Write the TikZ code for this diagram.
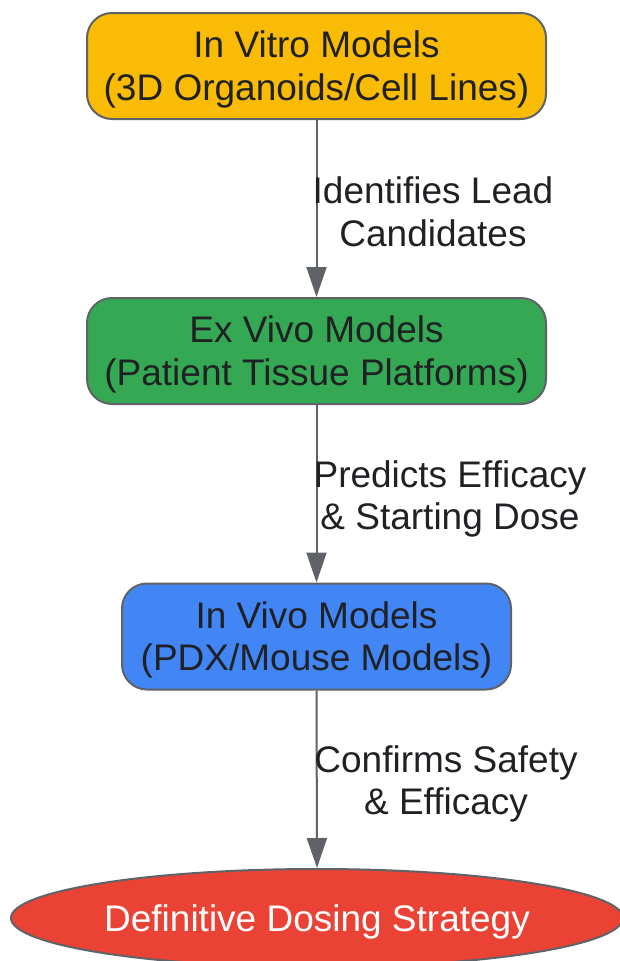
\documentclass[tikz,border=0pt]{standalone}
\usepackage{fontspec}
\setmainfont{Liberation Sans}
\usetikzlibrary{arrows.meta,shapes.geometric}
\definecolor{edgegray}{HTML}{5F6368}
\definecolor{txt}{HTML}{202124}
\definecolor{gyellow}{HTML}{FABB05}
\definecolor{ggreen}{HTML}{34A853}
\definecolor{gblue}{HTML}{4285F4}
\definecolor{gred}{HTML}{EA4335}
\newcommand{\boxtext}[1]{\raisebox{-4.5pt}[\height][\depth]{\begin{tabular}{@{}c@{}}#1\end{tabular}}}
\tikzset{
  box/.style={draw=edgegray, line width=2pt, rounded corners=25pt, minimum height=106pt, inner sep=0pt, align=center, text=txt, font=\fontsize{37}{42.5}\selectfont},
  oval/.style={ellipse, draw=edgegray, line width=2pt, minimum width=612pt, minimum height=98pt, inner sep=0pt, align=center, text=white, font=\fontsize{37}{42.5}\selectfont},
  conn/.style={draw=edgegray, line width=2pt, -{Triangle[length=30pt,width=20pt]}},
  lbl/.style={align=center, text=txt, font=\fontsize{37}{42.5}\selectfont, inner sep=0pt}
}
\begin{document}
\begin{tikzpicture}[x=1pt,y=-1pt]
\useasboundingbox (0,0) rectangle (620,961);
\node[box, fill=gyellow, minimum width=459pt] (a) at (316.5,66) {\boxtext{In Vitro Models\\(3D Organoids/Cell Lines)}};
\node[box, fill=ggreen, minimum width=459pt] (b) at (316.5,351) {\boxtext{Ex Vivo Models\\(Patient Tissue Platforms)}};
\node[box, fill=gblue, minimum width=389pt] (c) at (316.5,636.5) {\boxtext{In Vivo Models\\(PDX/Mouse Models)}};
\node[oval, fill=gred] (d) at (317,918) {\boxtext{Definitive Dosing Strategy}};
\draw[conn] (a.south) -- (b.north);
\draw[conn] (b.south) -- (c.north);
\draw[conn] (c.south) -- (d.north);
\node[lbl] (l1) at (433,212) {Identifies Lead\\Candidates};
\node[lbl] (l2) at (450,499) {Predicts Efficacy\\\& Starting Dose};
\node[lbl] (l3) at (446,784) {Confirms Safety\\\& Efficacy};
\end{tikzpicture}
\end{document}
